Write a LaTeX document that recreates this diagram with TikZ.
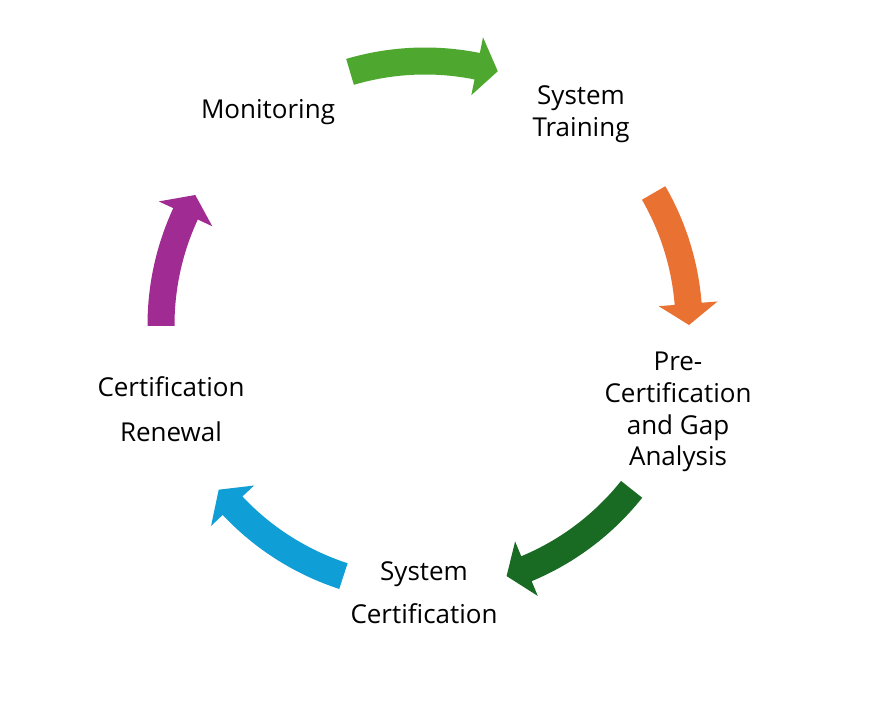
\documentclass[tikz,border=0pt]{standalone}
\usepackage{fontspec}
\setmainfont{Open Sans}
\usetikzlibrary{calc}
\definecolor{cgreen}{HTML}{4EA72E}
\definecolor{corange}{HTML}{E97132}
\definecolor{cdkgreen}{HTML}{196B24}
\definecolor{cblue}{HTML}{0F9ED5}
\definecolor{cpurple}{HTML}{A02B93}
\newcommand\cycarrow[3]{%
  \pgfmathsetmacro\hb{#3+4.6}%
  \fill[#1] ($(c)+(#2:277.5pt)$) arc[start angle=#2, end angle=\hb, radius=277.5pt]
    -- ($(c)+(\hb:293.5pt)$) -- ($(c)+(#3:264pt)$) -- ($(c)+(\hb:234.5pt)$)
    -- ($(c)+(\hb:250.5pt)$) arc[start angle=\hb, end angle=#2, radius=250.5pt] -- cycle;}
\tikzset{lbl/.style={align=center, inner sep=0pt, text=black,
  font=\fontsize{26}{31.8}\selectfont}}
\begin{document}
\begin{tikzpicture}[x=1pt,y=1pt]
\fill[white] (0,0) rectangle (874,702);
\useasboundingbox (0,0) rectangle (874,702);
\coordinate (c) at (425,377);
\cycarrow{cgreen}{106.5}{74}
\cycarrow{corange}{30}{0}
\cycarrow{cdkgreen}{-38.5}{-72}
\cycarrow{cblue}{252}{218.6}
\cycarrow{cpurple}{180.2}{150.5}
\node[lbl, anchor=base] (mon) at (268,583) {Monitoring};
\node[lbl] (train) at (581,588) {System\\Training};
\node[lbl] (pre) at (678,290) {Pre-\\Certification\\and Gap\\Analysis};
\node[lbl] (syscert) at (424,109.5) {System\\[11pt]Certification};
\node[lbl] (renew) at (171,293) {Certification\\[13pt]Renewal};
\end{tikzpicture}
\end{document}
